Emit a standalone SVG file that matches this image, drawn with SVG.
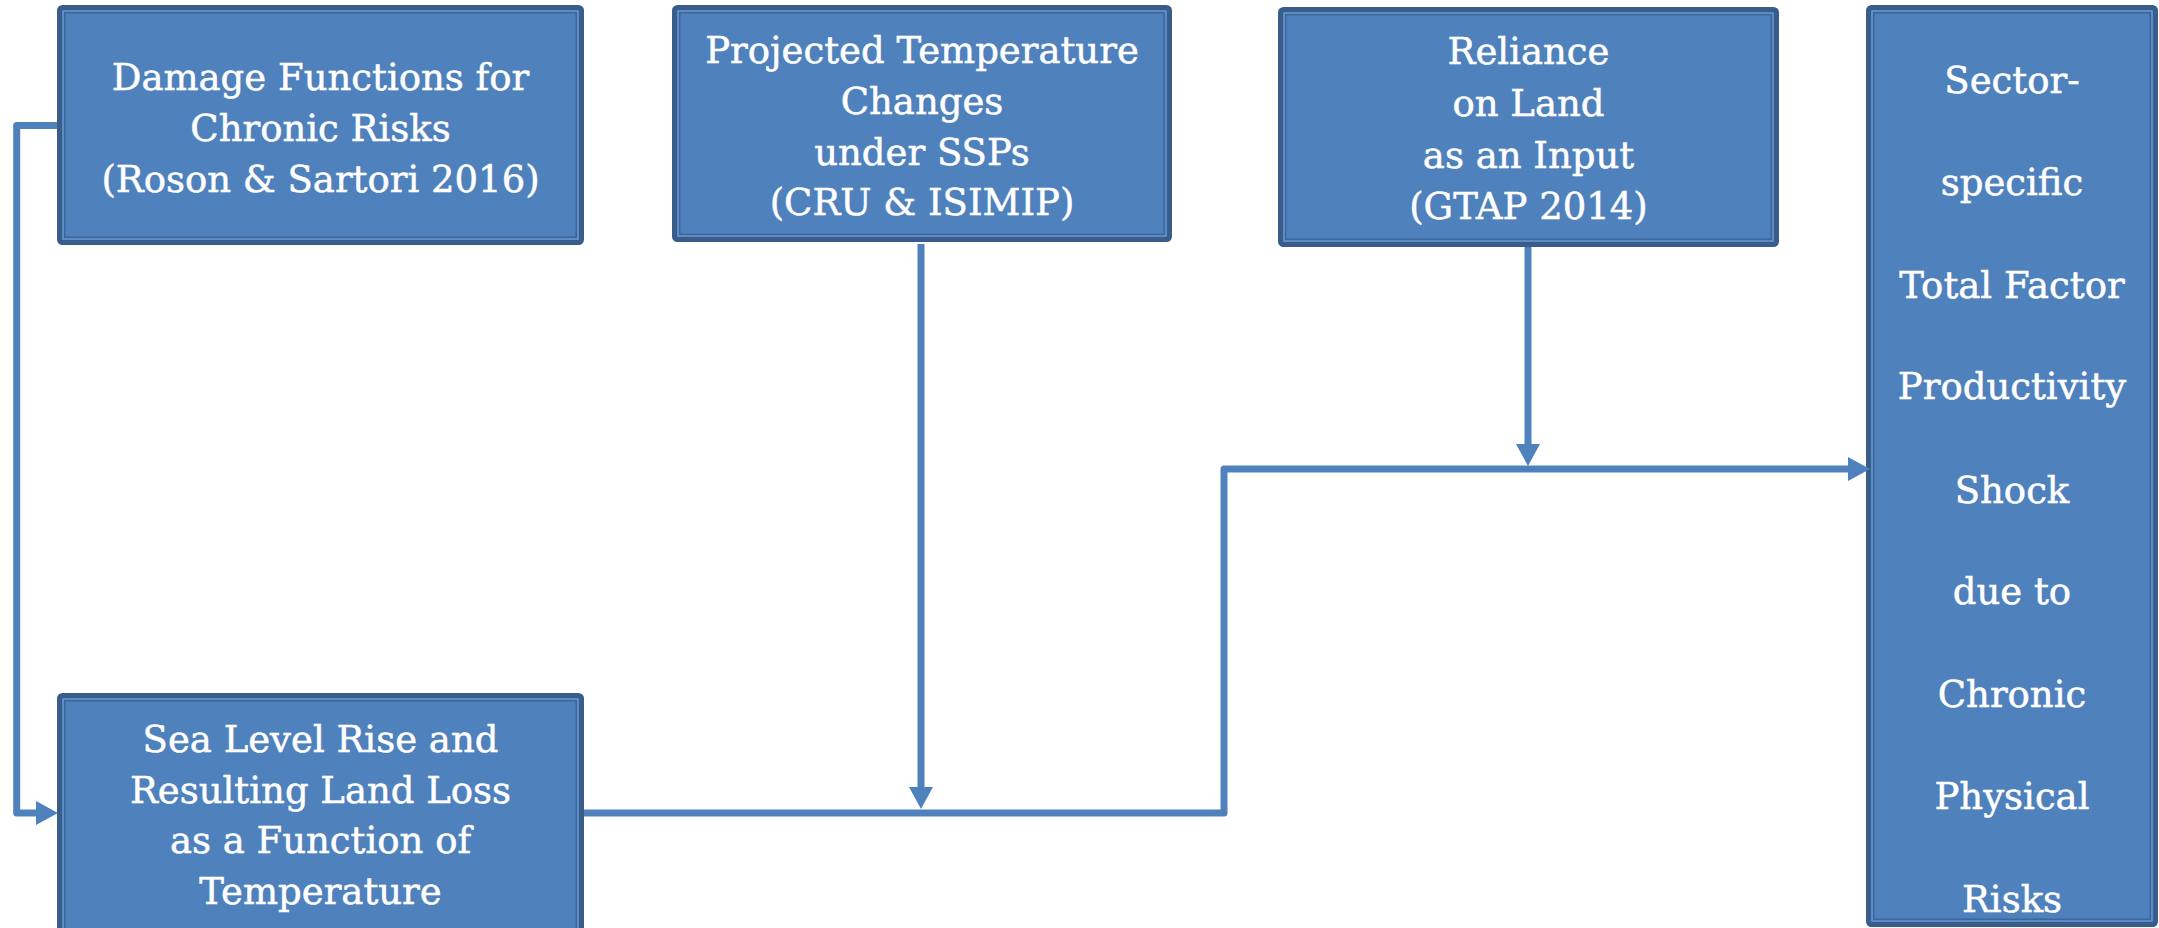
<svg xmlns="http://www.w3.org/2000/svg" width="2159" height="928" viewBox="0 0 2159 928">
<defs>
<style>
.box{fill:#4F81BD;stroke:#385D8A;stroke-width:5}
.hl{fill:none;stroke:#6C97CC;stroke-width:1}
.in{fill:none;stroke:#3D669B;stroke-width:1.5}
.t{font-family:"DejaVu Serif",serif;font-size:37px;fill:#FFFFFF;stroke:#FFFFFF;stroke-width:0.5;text-anchor:middle}
.c{fill:none;stroke:#4F81BD;stroke-width:7;stroke-linejoin:round}
</style>
<marker id="ah" viewBox="0 0 22 24" markerWidth="22" markerHeight="24" markerUnits="userSpaceOnUse" refX="2" refY="12" orient="auto">
<path d="M0,0 L22,12 L0,24 Z" fill="#4F81BD"/>
</marker>
</defs>
<rect width="2159" height="928" fill="#FFFFFF"/>

<g id="damage">
<rect class="box" x="59.5" y="7.5" width="522" height="235" rx="3"/>
<rect class="hl" x="63" y="11" width="515" height="228"/>
<rect class="in" x="64.75" y="12.75" width="511.5" height="224.5"/>
<text class="t" x="320.5" y="90">Damage Functions for</text>
<text class="t" x="320.5" y="141">Chronic Risks</text>
<text class="t" x="320.5" y="192">(Roson &amp; Sartori 2016)</text>
</g>

<g id="projected">
<rect class="box" x="674.5" y="7.5" width="495" height="232" rx="3"/>
<rect class="hl" x="678" y="11" width="488" height="225"/>
<rect class="in" x="679.75" y="12.75" width="484.5" height="221.5"/>
<text class="t" x="922" y="63">Projected Temperature</text>
<text class="t" x="922" y="114">Changes</text>
<text class="t" x="922" y="165">under SSPs</text>
<text class="t" x="922" y="215">(CRU &amp; ISIMIP)</text>
</g>

<g id="reliance">
<rect class="box" x="1280.5" y="9.5" width="496" height="235" rx="3"/>
<rect class="hl" x="1284" y="13" width="489" height="228"/>
<rect class="in" x="1285.75" y="14.75" width="485.5" height="224.5"/>
<text class="t" x="1528.5" y="64">Reliance</text>
<text class="t" x="1528.5" y="116">on Land</text>
<text class="t" x="1528.5" y="167.5">as an Input</text>
<text class="t" x="1528.5" y="219">(GTAP 2014)</text>
</g>

<g id="sector">
<rect class="box" x="1868.5" y="7.5" width="287" height="917" rx="3"/>
<rect class="hl" x="1872" y="11" width="280" height="910"/>
<rect class="in" x="1873.75" y="12.75" width="276.5" height="906.5"/>
<text class="t" x="2012" y="92.5">Sector-</text>
<text class="t" x="2012" y="195">specific</text>
<text class="t" x="2012" y="298">Total Factor</text>
<text class="t" x="2012" y="399">Productivity</text>
<text class="t" x="2012" y="503">Shock</text>
<text class="t" x="2012" y="604">due to</text>
<text class="t" x="2012" y="707">Chronic</text>
<text class="t" x="2012" y="809">Physical</text>
<text class="t" x="2012" y="912">Risks</text>
</g>

<g id="sealevel">
<rect class="box" x="59.5" y="695.5" width="522" height="250" rx="3"/>
<rect class="hl" x="63" y="699" width="515" height="243"/>
<rect class="in" x="64.75" y="700.75" width="511.5" height="239.5"/>
<text class="t" x="320.5" y="752">Sea Level Rise and</text>
<text class="t" x="320.5" y="803">Resulting Land Loss</text>
<text class="t" x="320.5" y="853">as a Function of</text>
<text class="t" x="320.5" y="904">Temperature</text>
</g>

<g id="connectors">
<path class="c" d="M57,125.5 H16.7 V813 H38" marker-end="url(#ah)"/>
<path class="c" d="M921,244 V789" marker-end="url(#ah)"/>
<path class="c" d="M584,813 H1224 V469 H1850" marker-end="url(#ah)"/>
<path class="c" d="M1528,247 V446" marker-end="url(#ah)"/>
</g>
</svg>
